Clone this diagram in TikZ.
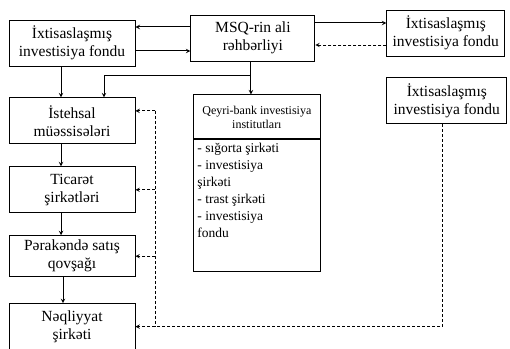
\documentclass[tikz,border=0pt]{standalone}
\usepackage{fontspec}
\setmainfont{Liberation Serif}
\usetikzlibrary{arrows,positioning,calc}

\begin{document}
\begin{tikzpicture}[
    x=1pt, y=1pt,
    node distance=22pt and 55pt,
    box/.style={rectangle, draw, line width=0.9pt, minimum width=126pt, minimum height=46pt, align=center, font=\fontsize{15.5}{18}\selectfont},
    headbox/.style={rectangle, draw, line width=0.9pt, minimum width=127pt, minimum height=44pt, align=center, font=\fontsize{12}{14}\selectfont},
    listbox/.style={rectangle, draw, line width=0.9pt, minimum width=127pt, inner sep=3pt, font=\fontsize{13.5}{17}\selectfont},
    arrow/.style={->, >=stealth, line width=1pt},
    dashline/.style={line width=0.9pt, dash pattern=on 3pt off 2pt},
    dasharrow/.style={->, >=stealth, line width=0.9pt, dash pattern=on 3pt off 2pt}
]
\useasboundingbox (0,0) rectangle (510,348);

% Left column
\node[box] (ifLeft) at (72,305) {İxtisaslaşmış\\investisiya fondu};
\node[box, below=31pt of ifLeft] (prod) {İstehsal\\müəssisələri};
\node[box, below=of prod] (trade) {Ticarət\\şirkətləri};
\node[box, minimum height=41pt, below=of trade] (retail) {Pərakəndə satış\\qovşağı};
\node[box, below=26pt of retail] (transp) {Nəqliyyat\\şirkəti};

% Top row
\node[box, minimum width=124pt, right=55pt of ifLeft, yshift=5pt] (msq) {MSQ-rin ali\\rəhbərliyi};
\node[box, minimum width=118pt, right=71pt of msq, yshift=5pt] (ifRight) {İxtisaslaşmış\\investisiya fondu};
\node[box, minimum width=120pt, below=21pt of ifRight, xshift=1pt] (ifFar) {İxtisaslaşmış\\investisiya fondu};

% Non-bank institutions
\node[headbox, below=33pt of msq, xshift=4pt] (qb) {Qeyri-bank investisiya\\institutları};
\node[listbox, below=0pt of qb] (lst) {\parbox[t][126pt][t]{119pt}{\raggedright
    - sığorta şirkəti\\- investisiya\\şirkəti\\- trast şirkəti\\- investisiya\\fondu}};

% Arrows
\draw[arrow] ([yshift=11pt]msq.west) -- ([yshift=11pt]msq.west -| ifLeft.east);
\draw[arrow] ([yshift=-13pt]msq.west -| ifLeft.east) -- ([yshift=-13pt]msq.west);
\draw[arrow] ([yshift=15pt]msq.east) -- ([yshift=15pt]msq.east -| ifRight.west);
\draw[dasharrow] ([yshift=-7pt]msq.east -| ifRight.west) -- ([yshift=-7pt]msq.east);

\draw[arrow] ([xshift=-11pt]ifLeft.south) -- ([xshift=-11pt]prod.north);
\draw[arrow] ([xshift=-11pt]prod.south) -- ([xshift=-11pt]trade.north);
\draw[arrow] ([xshift=-11pt]trade.south) -- ([xshift=-11pt]retail.north);
\draw[arrow] ([xshift=-9pt]retail.south) -- ([xshift=-9pt]transp.north);

\draw[arrow] ([xshift=-2pt]msq.south) -- ([xshift=-2pt]msq.south |- qb.north);
\draw[arrow] ([xshift=-2pt,yshift=-14pt]msq.south) -| ([xshift=32pt]prod.north);

% Dashed links
\coordinate (busTop) at ($(prod.east)+(20pt,10pt)$);
\draw[dasharrow] (busTop) -- ([yshift=10pt]prod.east);
\draw[dashline] (busTop) -- (busTop |- transp.east);
\draw[dasharrow] (busTop |- trade.east) -- (trade.east);
\draw[dasharrow] (busTop |- retail.east) -- (retail.east);
\draw[dasharrow] ([xshift=-4pt]ifFar.south) |- (transp.east);

\end{tikzpicture}
\end{document}
